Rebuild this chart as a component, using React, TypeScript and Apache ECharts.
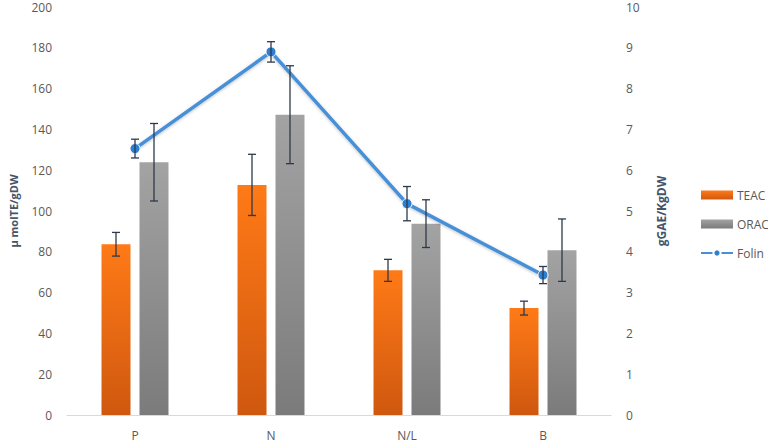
import React, { useEffect, useRef } from "react";
import * as echarts from "echarts";

const categories = ["P", "N", "N/L", "B"];
const teac = [83.7, 112.8, 70.9, 52.4];
const teacErr = [5.8, 15, 5.4, 3.4];
const orac = [123.9, 147.2, 93.8, 80.8];
const oracErr = [19, 24, 11.7, 15.3];
const folin = [6.53, 8.9, 5.18, 3.43];
const folinErr = [0.23, 0.25, 0.42, 0.21];

const BAR_W = 29;
const BAR_GAP = 9;
const FONT = "Open Sans";
const LABEL_COLOR = "#595959";
const ERR_COLOR = "#2e3a4a";

function errRender(values: number[], errs: number[], offset: number) {
  return (params: any, api: any) => {
    const i = api.value(0);
    const v = values[i];
    const e = errs[i];
    const top = api.coord([i, v + e]);
    const bot = api.coord([i, v - e]);
    const x = top[0] + offset;
    const cap = 4;
    const style = { stroke: ERR_COLOR, lineWidth: 1.3 };
    return {
      type: "group",
      children: [
        { type: "line", shape: { x1: x, y1: top[1], x2: x, y2: bot[1] }, style },
        { type: "line", shape: { x1: x - cap, y1: top[1], x2: x + cap, y2: top[1] }, style },
        { type: "line", shape: { x1: x - cap, y1: bot[1], x2: x + cap, y2: bot[1] }, style },
      ],
    };
  };
}

export default function App() {
  const ref = useRef<HTMLDivElement>(null);
  useEffect(() => {
    if (!ref.current) return;
    const chart = echarts.init(ref.current, undefined, { renderer: "svg" });
    const idx = categories.map((_, i) => [i]);
    const off = (BAR_W + BAR_GAP) / 2;
    chart.setOption({
      animation: false,
      textStyle: { fontFamily: FONT },
      grid: { left: 62, right: 157, top: 7, bottom: 30 },
      legend: {
        orient: "vertical",
        left: 695,
        top: 184,
        itemWidth: 32,
        itemHeight: 9,
        itemGap: 17,
        textStyle: { fontFamily: FONT, fontSize: 12, color: LABEL_COLOR, padding: [0, 0, 0, -1] },
        data: [
          { name: "TEAC", icon: "rect" },
          { name: "ORAC", icon: "rect" },
          { name: "Folin" },
        ],
      },
      xAxis: {
        type: "category",
        data: categories,
        axisLine: { lineStyle: { color: "#d9d9d9", width: 1 } },
        axisTick: { show: false },
        axisLabel: { color: LABEL_COLOR, fontSize: 12, margin: 14, fontFamily: FONT },
      },
      yAxis: [
        {
          type: "value",
          min: 0,
          max: 200,
          interval: 20,
          splitLine: { show: false },
          axisLine: { show: false },
          axisTick: { show: false },
          axisLabel: { color: LABEL_COLOR, fontSize: 12, margin: 15, fontFamily: FONT },
          name: "μ molTE/gDW",
          nameLocation: "middle",
          nameGap: 48,
          nameTextStyle: { color: "#44546a", fontSize: 11, fontWeight: "bold", fontFamily: FONT },
        },
        {
          type: "value",
          min: 0,
          max: 10,
          interval: 1,
          position: "right",
          splitLine: { show: false },
          axisLine: { show: false },
          axisTick: { show: false },
          axisLabel: { color: LABEL_COLOR, fontSize: 12, margin: 15, fontFamily: FONT },
          name: "gGAE/KgDW",
          nameLocation: "middle",
          nameGap: 44,
          nameRotate: 90,
          nameTextStyle: { color: "#44546a", fontSize: 12, fontWeight: "bold", fontFamily: FONT },
        },
      ],
      series: [
        {
          name: "TEAC",
          type: "bar",
          data: teac,
          barWidth: BAR_W,
          barGap: ((BAR_GAP / BAR_W) * 100).toFixed(0) + "%",
          itemStyle: {
            color: new echarts.graphic.LinearGradient(0, 0, 0, 1, [
              { offset: 0, color: "#ff7a17" },
              { offset: 1, color: "#cf580f" },
            ]),
          },
        },
        {
          name: "ORAC",
          type: "bar",
          data: orac,
          barWidth: BAR_W,
          itemStyle: {
            color: new echarts.graphic.LinearGradient(0, 0, 0, 1, [
              { offset: 0, color: "#a3a3a3" },
              { offset: 1, color: "#7b7b7b" },
            ]),
          },
        },
        {
          name: "Folin",
          type: "line",
          yAxisIndex: 1,
          data: folin,
          symbol: "circle",
          symbolSize: 10,
          z: 5,
          lineStyle: { color: "#4790d8", width: 3.5, shadowColor: "rgba(0,0,0,0.25)", shadowBlur: 3, shadowOffsetY: 1 },
          itemStyle: { color: "#2f7fd0", borderColor: "#ffffff", borderWidth: 1 },
        },
        {
          type: "custom",
          name: "teacErr",
          data: idx,
          z: 10,
          silent: true,
          renderItem: errRender(teac, teacErr, -off),
        },
        {
          type: "custom",
          name: "oracErr",
          data: idx,
          z: 10,
          silent: true,
          renderItem: errRender(orac, oracErr, off),
        },
        {
          type: "custom",
          name: "folinErr",
          yAxisIndex: 1,
          data: idx,
          z: 10,
          silent: true,
          renderItem: errRender(folin, folinErr, 0),
        },
      ],
    });
    return () => chart.dispose();
  }, []);
  return <div ref={ref} style={{ width: 768, height: 445, position: "absolute", left: 0, top: 0 }} />;
}
